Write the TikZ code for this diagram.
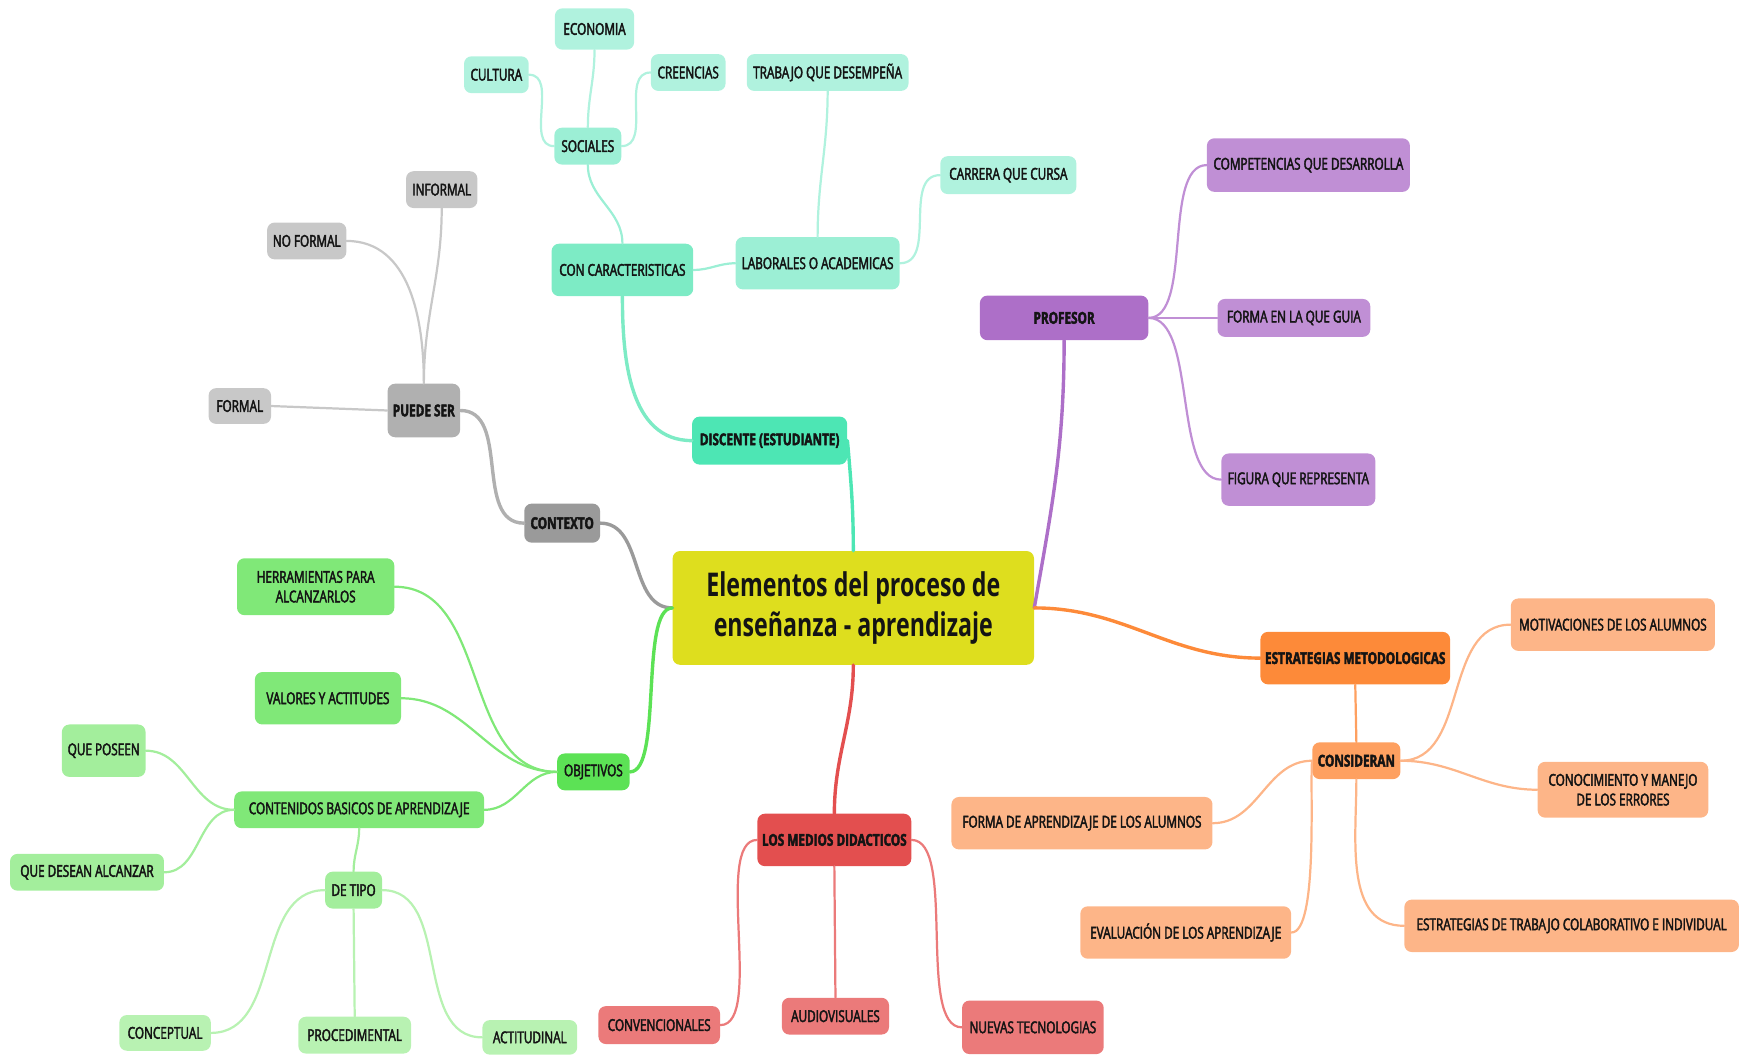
\documentclass[tikz,border=0pt]{standalone}
\usepackage{xcolor}
\usepackage{fontspec}
\setmainfont{Open Sans}[FakeStretch=0.72, FakeBold=2.5]
\newfontfamily\titlefont{Open Sans}[FakeStretch=0.71]
\usepackage{tikz}
\usetikzlibrary{positioning}

\definecolor{centro}{HTML}{DEDE1E}
\definecolor{tealA}{HTML}{4DE6B4}
\definecolor{tealB}{HTML}{7DEBC5}
\definecolor{tealC}{HTML}{9CEFD5}
\definecolor{tealD}{HTML}{B0F2DE}
\definecolor{grisA}{HTML}{9A9A9A}
\definecolor{grisB}{HTML}{B0B0B0}
\definecolor{grisC}{HTML}{C8C8C8}
\definecolor{moradoA}{HTML}{AD6FC8}
\definecolor{moradoB}{HTML}{C08FD5}
\definecolor{naranjaA}{HTML}{FD8A39}
\definecolor{naranjaB}{HTML}{FEA060}
\definecolor{naranjaC}{HTML}{FDB588}
\definecolor{rojoA}{HTML}{E34F4F}
\definecolor{rojoB}{HTML}{EB7A7A}
\definecolor{verdeA}{HTML}{5CE255}
\definecolor{verdeB}{HTML}{80E878}
\definecolor{verdeC}{HTML}{A3EE9C}
\definecolor{verdeD}{HTML}{B8F2B2}
\definecolor{texto}{HTML}{141414}

\tikzset{
  caja/.style={rounded corners=2mm, inner sep=1pt, align=center, text=texto,
    font=\fontsize{12.5}{15}\selectfont},
  fuerte/.style={font=\bfseries\fontsize{12.5}{15}\selectfont},
  wh/.style 2 args={minimum width=#1*0.3mm, minimum height=#2*0.3mm},
  rama/.style={line width=2.6pt, line cap=round},
  hoja/.style={line width=1.7pt, line cap=round},
}

\begin{document}
\begin{tikzpicture}[x=0.3mm, y=-0.3mm]
  \useasboundingbox (0,0) rectangle (1568,945);

  % tema central
  \node[caja, fill=centro, wh={324}{102}, font=\titlefont\bfseries\fontsize{25}{31}\selectfont] (central) at (765,545)
    {Elementos del proceso de\\enseñanza - aprendizaje};

  % discente
  \node[caja, fuerte, fill=tealA, wh={139}{43}] (discente) at (690,395) {DISCENTE (ESTUDIANTE)};
  \node[caja, fill=tealB, wh={127}{47}] (concar) at (558,242) {CON CARACTERISTICAS};
  \node[caja, fill=tealC, wh={60}{33}] (sociales) at (527,131) {SOCIALES};
  \node[caja, fill=tealC, wh={147}{47}] (laborales) at (733,236) {LABORALES O ACADEMICAS};
  \node[caja, fill=tealD, wh={71}{37}] (economia) at (533,26) {ECONOMIA};
  \node[caja, fill=tealD, wh={58}{33}] (cultura) at (445,67) {CULTURA};
  \node[caja, fill=tealD, wh={67}{33}] (creencias) at (617,65) {CREENCIAS};
  \node[caja, fill=tealD, wh={145}{33}] (trabajo) at (742,65) {TRABAJO QUE DESEMPEÑA};
  \node[caja, fill=tealD, wh={122}{34}] (carrera) at (904,157) {CARRERA QUE CURSA};

  % contexto
  \node[caja, fuerte, fill=grisA, wh={68}{35}] (contexto) at (504,469) {CONTEXTO};
  \node[caja, fuerte, fill=grisB, wh={65}{48}] (puede) at (380,368) {PUEDE SER};
  \node[caja, fill=grisC, wh={64}{33}] (informal) at (396,170) {INFORMAL};
  \node[caja, fill=grisC, wh={71}{33}] (noformal) at (275,216) {NO FORMAL};
  \node[caja, fill=grisC, wh={56}{32}] (formal) at (215,364) {FORMAL};

  % profesor
  \node[caja, fuerte, fill=moradoA, wh={151}{40}] (profesor) at (954,285) {PROFESOR};
  \node[caja, fill=moradoB, wh={182}{48}] (competencias) at (1173,148) {COMPETENCIAS QUE DESARROLLA};
  \node[caja, fill=moradoB, wh={137}{34}] (formaguia) at (1160,285) {FORMA EN LA QUE GUIA};
  \node[caja, fill=moradoB, wh={138}{47}] (figura) at (1164,430) {FIGURA QUE REPRESENTA};

  % estrategias
  \node[caja, fuerte, fill=naranjaA, wh={170}{47}] (estrategias) at (1215,590) {ESTRATEGIAS METODOLOGICAS};
  \node[caja, fuerte, fill=naranjaB, wh={79}{33}] (consideran) at (1216,682) {CONSIDERAN};
  \node[caja, fill=naranjaC, wh={183}{47}] (motivaciones) at (1446,560) {MOTIVACIONES DE LOS ALUMNOS};
  \node[caja, fill=naranjaC, wh={153}{50}] (conocimiento) at (1455,708) {CONOCIMIENTO Y MANEJO\\DE LOS ERRORES};
  \node[caja, fill=naranjaC, wh={234}{47}] (formaprend) at (970,738) {FORMA DE APRENDIZAJE DE LOS ALUMNOS};
  \node[caja, fill=naranjaC, wh={189}{47}] (evaluacion) at (1063,836) {EVALUACIÓN DE LOS APRENDIZAJE};
  \node[caja, fill=naranjaC, wh={300}{47}] (colaborativo) at (1409,830) {ESTRATEGIAS DE TRABAJO COLABORATIVO E INDIVIDUAL};

  % medios
  \node[caja, fuerte, fill=rojoA, wh={138}{47}] (medios) at (748,753) {LOS MEDIOS DIDACTICOS};
  \node[caja, fill=rojoB, wh={109}{34}] (convencionales) at (591,919) {CONVENCIONALES};
  \node[caja, fill=rojoB, wh={96}{33}] (audiovisuales) at (749,911) {AUDIOVISUALES};
  \node[caja, fill=rojoB, wh={127}{48}] (nuevas) at (926,921) {NUEVAS TECNOLOGIAS};

  % objetivos
  \node[caja, fill=verdeA, wh={65}{33}] (objetivos) at (532,692) {OBJETIVOS};
  \node[caja, fill=verdeB, wh={141}{51}] (herramientas) at (283,526) {HERRAMIENTAS PARA\\ALCANZARLOS};
  \node[caja, fill=verdeB, wh={131}{47}] (valores) at (294,626) {VALORES Y ACTITUDES};
  \node[caja, fill=verdeB, wh={224}{33}] (contenidos) at (322,726) {CONTENIDOS BASICOS DE APRENDIZAJE};
  \node[caja, fill=verdeC, wh={75}{47}] (queposeen) at (93,673) {QUE POSEEN};
  \node[caja, fill=verdeC, wh={138}{33}] (quedesean) at (78,782) {QUE DESEAN ALCANZAR};
  \node[caja, fill=verdeC, wh={51}{33}] (detipo) at (317,798) {DE TIPO};
  \node[caja, fill=verdeD, wh={82}{32}] (conceptual) at (148,926) {CONCEPTUAL};
  \node[caja, fill=verdeD, wh={101}{33}] (procedimental) at (318,928) {PROCEDIMENTAL};
  \node[caja, fill=verdeD, wh={85}{31}] (actitudinal) at (475,930) {ACTITUDINAL};

  % conectores
  \draw[rama, tealA] (central.north) to[out=90,in=-85] (discente.east);
  \draw[rama, tealB] (discente.west) to[out=180,in=-90] (concar.south);
  \draw[hoja, tealC] (concar.north) to[out=90,in=-90] (sociales.south);
  \draw[hoja, tealC] (concar.east) to[out=0,in=180] (laborales.west);
  \draw[hoja, tealD] (sociales.north) to[out=90,in=-90] (economia.south);
  \draw[hoja, tealD] (sociales.west) to[out=180,in=0] (cultura.east);
  \draw[hoja, tealD] (sociales.east) to[out=0,in=180] (creencias.west);
  \draw[hoja, tealD] (laborales.north) to[out=90,in=-90] (trabajo.south);
  \draw[hoja, tealD] (laborales.east) to[out=0,in=180] (carrera.west);

  \draw[rama, grisA] (central.west) to[out=180,in=0] (contexto.east);
  \draw[rama, grisB] (contexto.west) to[out=180,in=0] (puede.east);
  \draw[hoja, grisC] (puede.north) to[out=90,in=-90] (informal.south);
  \draw[hoja, grisC] (puede.north) to[out=90,in=0] (noformal.east);
  \draw[hoja, grisC] (puede.west) -- (formal.east);

  \draw[rama, moradoA] (central.east) to[out=80,in=-90] (profesor.south);
  \draw[hoja, moradoB] (profesor.east) to[out=0,in=180,looseness=0.7] (competencias.west);
  \draw[hoja, moradoB] (profesor.east) -- (formaguia.west);
  \draw[hoja, moradoB] (profesor.east) to[out=0,in=180,looseness=0.7] (figura.west);

  \draw[rama, naranjaA] (central.east) to[out=0,in=180] (estrategias.west);
  \draw[hoja, naranjaB] (estrategias.south) -- (consideran.north);
  \draw[hoja, naranjaC] (consideran.east) to[out=0,in=180] (motivaciones.west);
  \draw[hoja, naranjaC] (consideran.east) to[out=0,in=180] (conocimiento.west);
  \draw[hoja, naranjaC] (consideran.west) to[out=180,in=0] (formaprend.east);
  \draw[hoja, naranjaC] (consideran.west) to[out=-95,in=0,looseness=0.4] (evaluacion.east);
  \draw[hoja, naranjaC] (consideran.south) to[out=-90,in=180] (colaborativo.west);

  \draw[rama, rojoA] (central.south) to[out=-90,in=90] (medios.north);
  \draw[hoja, rojoB] (medios.west) to[out=180,in=0,looseness=0.6] (convencionales.east);
  \draw[hoja, rojoB] (medios.south) -- (audiovisuales.north);
  \draw[hoja, rojoB] (medios.east) to[out=0,in=180,looseness=0.6] (nuevas.west);

  \draw[rama, verdeA] (central.west) to[out=180,in=0,looseness=0.5] (objetivos.east);
  \draw[hoja, verdeB] (objetivos.west) to[out=180,in=0] (herramientas.east);
  \draw[hoja, verdeB] (objetivos.west) to[out=180,in=0] (valores.east);
  \draw[hoja, verdeB] (objetivos.west) to[out=180,in=0] (contenidos.east);
  \draw[hoja, verdeC] (contenidos.west) to[out=180,in=0] (queposeen.east);
  \draw[hoja, verdeC] (contenidos.west) to[out=180,in=0] (quedesean.east);
  \draw[hoja, verdeC] (contenidos.south) to[out=-90,in=90] (detipo.north);
  \draw[hoja, verdeD] (detipo.west) to[out=180,in=0] (conceptual.east);
  \draw[hoja, verdeD] (detipo.south) -- (procedimental.north);
  \draw[hoja, verdeD] (detipo.east) to[out=0,in=180] (actitudinal.west);
\end{tikzpicture}
\end{document}
